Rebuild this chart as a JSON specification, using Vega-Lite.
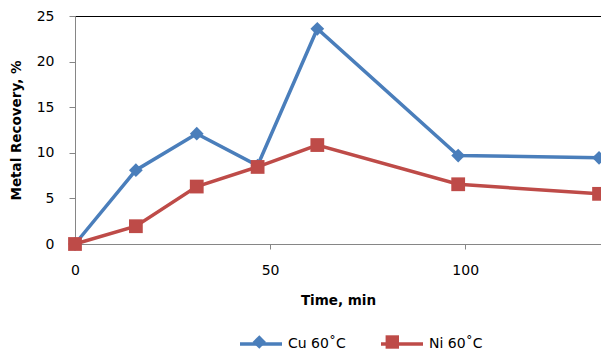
{
  "$schema": "https://vega.github.io/schema/vega-lite/v6.json",
  "width": 526,
  "height": 228,
  "autosize": {"type": "none"},
  "padding": {"left": 75, "top": 16, "right": 0, "bottom": 109},
  "background": "white",
  "config": {
    "view": {"stroke": "#000", "strokeWidth": 1},
    "font": "DejaVu Sans",
    "axis": {
      "grid": false,
      "domainColor": "#868686",
      "tickColor": "#868686",
      "labelColor": "#000",
      "titleColor": "#000",
      "labelFontSize": 14,
      "titleFontSize": 13.5,
      "titleFontWeight": "bold",
      "labelFont": "DejaVu Sans",
      "titleFont": "DejaVu Sans"
    }
  },
  "data": {
    "values": [
      {"time": 0, "recovery": 0, "series": "Cu 60˚C"},
      {"time": 15.6, "recovery": 8.1, "series": "Cu 60˚C"},
      {"time": 31.2, "recovery": 12.1, "series": "Cu 60˚C"},
      {"time": 46.8, "recovery": 8.6, "series": "Cu 60˚C"},
      {"time": 62.1, "recovery": 23.6, "series": "Cu 60˚C"},
      {"time": 98.2, "recovery": 9.7, "series": "Cu 60˚C"},
      {"time": 134.3, "recovery": 9.45, "series": "Cu 60˚C"},
      {"time": 0, "recovery": 0, "series": "Ni 60˚C"},
      {"time": 15.6, "recovery": 1.95, "series": "Ni 60˚C"},
      {"time": 31.2, "recovery": 6.3, "series": "Ni 60˚C"},
      {"time": 46.8, "recovery": 8.45, "series": "Ni 60˚C"},
      {"time": 62.1, "recovery": 10.85, "series": "Ni 60˚C"},
      {"time": 98.2, "recovery": 6.55, "series": "Ni 60˚C"},
      {"time": 134.3, "recovery": 5.5, "series": "Ni 60˚C"}
    ]
  },
  "encoding": {
    "x": {
      "field": "time",
      "type": "quantitative",
      "scale": {"domain": [0, 134.8], "nice": false, "zero": false},
      "axis": {"values": [0, 50, 100], "title": "Time, min", "tickSize": 5, "labelPadding": 14, "titlePadding": 16, "labelFlush": false}
    },
    "y": {
      "field": "recovery",
      "type": "quantitative",
      "scale": {"domain": [0, 25], "nice": false},
      "axis": {"values": [0, 5, 10, 15, 20, 25], "title": "Metal Recovery, %", "tickSize": 6, "labelPadding": 15, "titlePadding": 13}
    }
  },
  "layer": [
    {
      "mark": {"type": "line", "strokeWidth": 3.5},
      "encoding": {
        "color": {
          "field": "series", "type": "nominal",
          "scale": {"range": ["#4a7ebb", "#be4b48"]},
          "legend": {
            "orient": "none", "legendX": 163, "legendY": 305, "direction": "horizontal", "title": null,
            "symbolType": "stroke", "symbolSize": 1764, "symbolStrokeWidth": 3.5,
            "labelFontSize": 14, "labelFont": "DejaVu Sans", "labelColor": "#000", "labelOffset": 4, "columnPadding": 28, "padding": 0
          }
        }
      }
    },
    {
      "mark": {"type": "point", "filled": true, "opacity": 1, "size": 190, "strokeWidth": 0},
      "encoding": {
        "fill": {
          "field": "series", "type": "nominal",
          "scale": {"domain": ["Cu 60˚C", "Ni 60˚C"], "range": ["#4a7ebb", "#be4b48"]},
          "legend": {
            "orient": "none", "legendX": 177.3, "legendY": 319, "direction": "horizontal", "title": null,
            "symbolSize": 180, "symbolStrokeWidth": 0, "labelExpr": "''",
            "labelFontSize": 14, "labelFont": "DejaVu Sans", "labelOffset": 90.26, "columnPadding": 28, "padding": 0
          }
        },
        "shape": {
          "field": "series", "type": "nominal",
          "scale": {"domain": ["Cu 60˚C", "Ni 60˚C"], "range": ["diamond", "square"]},
          "legend": {
            "orient": "none", "legendX": 177.3, "legendY": 319, "direction": "horizontal", "title": null,
            "symbolSize": 180, "symbolStrokeWidth": 0, "labelExpr": "''",
            "labelFontSize": 14, "labelFont": "DejaVu Sans", "labelOffset": 90.26, "columnPadding": 28, "padding": 0
          }
        }
      }
    }
  ]
}
